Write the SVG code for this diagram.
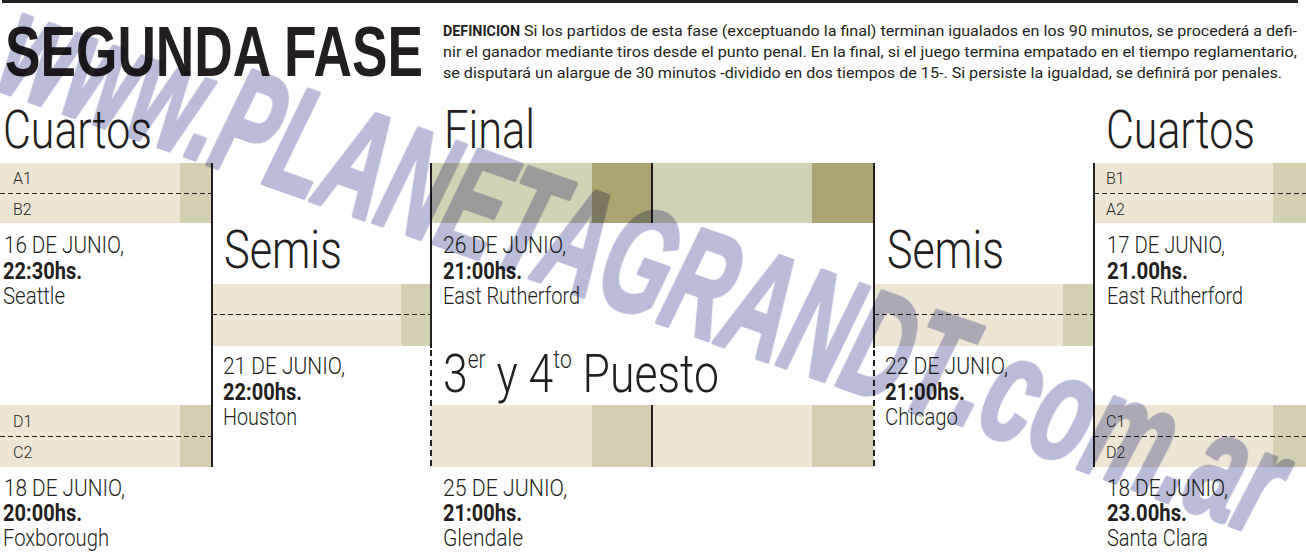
<svg xmlns="http://www.w3.org/2000/svg" width="1306" height="553" viewBox="0 0 1306 553">
<style>
.lt{fill:#ede6d5}
.md{fill:#d4d1b3}
.dk{fill:#aba370}
.fm{fill:#d4d2b4}
text{fill:#231f20;font-family:Roboto,"Liberation Sans",sans-serif}
.h{font-size:53px;font-weight:300}
.sup{font-size:25px}
.d{font-size:24px;font-weight:300}
.b{font-size:24px;font-weight:700}
.l{font-size:16px;font-weight:300}
.df{font-size:14.5px;font-weight:400}
.dfb{font-size:14.5px;font-weight:700}
.ttl{font-family:"Liberation Sans",Arial,sans-serif;font-weight:700;font-size:71px}
.ln{stroke:#231f20;stroke-width:2;fill:none}
.dl{stroke:#231f20;stroke-width:2;stroke-dasharray:6 4;fill:none}
.hd{stroke:#231f20;stroke-width:1;stroke-dasharray:5 3;fill:none}
#watermark{mix-blend-mode:multiply}
.wm{font-family:"Liberation Sans",Arial,sans-serif;font-weight:700;font-style:italic;font-size:150px;fill:#b9bbd9;stroke:#b9bbd9;stroke-width:4;stroke-linejoin:round}
</style>
<rect width="1306" height="553" fill="#ffffff"/>

<g id="header">
<rect x="2" y="0" width="1296" height="3" fill="#231f20"/>
<text class="ttl" x="5" y="76" textLength="418" lengthAdjust="spacingAndGlyphs">SEGUNDA FASE</text>
<text class="dfb" x="443" y="36" textLength="77" lengthAdjust="spacingAndGlyphs">DEFINICION</text>
<text class="df" x="524" y="36" textLength="773" lengthAdjust="spacingAndGlyphs">Si los partidos de esta fase (exceptuando la final) terminan igualados en los 90 minutos, se procederá a defi-</text>
<text class="df" x="443" y="57" textLength="854" lengthAdjust="spacingAndGlyphs">nir el ganador mediante tiros desde el punto penal. En la final, si el juego termina empatado en el tiempo reglamentario,</text>
<text class="df" x="443" y="78" textLength="839" lengthAdjust="spacingAndGlyphs">se disputará un alargue de 30 minutos -dividido en dos tiempos de 15-. Si persiste la igualdad, se definirá por penales.</text>
</g>

<g id="section-titles">
<text class="h" x="3" y="148" textLength="149" lengthAdjust="spacingAndGlyphs">Cuartos</text>
<text class="h" x="444" y="148" textLength="91" lengthAdjust="spacingAndGlyphs">Final</text>
<text class="h" x="1106" y="148" textLength="149" lengthAdjust="spacingAndGlyphs">Cuartos</text>
<text class="h" x="224" y="268" textLength="118" lengthAdjust="spacingAndGlyphs">Semis</text>
<text class="h" x="887" y="268" textLength="117" lengthAdjust="spacingAndGlyphs">Semis</text>
</g>

<g id="cuartos-a1-b2">
<rect class="lt" x="0" y="163" width="180" height="60"/>
<rect class="md" x="180" y="163" width="32" height="60"/>
<text class="l" x="13" y="184">A1</text>
<text class="l" x="13" y="215">B2</text>
<text class="d" x="4" y="253" textLength="120" lengthAdjust="spacingAndGlyphs">16 DE JUNIO,</text>
<text class="b" x="3" y="279" textLength="79" lengthAdjust="spacingAndGlyphs">22:30hs.</text>
<text class="d" x="3" y="304" textLength="62" lengthAdjust="spacingAndGlyphs">Seattle</text>
</g>

<g id="cuartos-d1-c2">
<rect class="lt" x="0" y="405" width="180" height="62"/>
<rect class="md" x="180" y="405" width="32" height="62"/>
<text class="l" x="13" y="427">D1</text>
<text class="l" x="13" y="458">C2</text>
<text class="d" x="4" y="496" textLength="121" lengthAdjust="spacingAndGlyphs">18 DE JUNIO,</text>
<text class="b" x="3" y="521" textLength="79" lengthAdjust="spacingAndGlyphs">20:00hs.</text>
<text class="d" x="3" y="546" textLength="106" lengthAdjust="spacingAndGlyphs">Foxborough</text>
</g>

<g id="semis-1">
<rect class="lt" x="212" y="284" width="189" height="62"/>
<rect class="md" x="401" y="284" width="30" height="62"/>
<text class="d" x="223" y="374" textLength="122" lengthAdjust="spacingAndGlyphs">21 DE JUNIO,</text>
<text class="b" x="223" y="400" textLength="79" lengthAdjust="spacingAndGlyphs">22:00hs.</text>
<text class="d" x="223" y="425" textLength="74" lengthAdjust="spacingAndGlyphs">Houston</text>
</g>

<g id="final">
<rect class="fm" x="431" y="163" width="161" height="60"/>
<rect class="dk" x="592" y="163" width="60" height="60"/>
<rect class="fm" x="652" y="163" width="160" height="60"/>
<rect class="dk" x="812" y="163" width="62" height="60"/>
<text class="d" x="443" y="253" textLength="123" lengthAdjust="spacingAndGlyphs">26 DE JUNIO,</text>
<text class="b" x="443" y="279" textLength="79" lengthAdjust="spacingAndGlyphs">21:00hs.</text>
<text class="d" x="443" y="304" textLength="137" lengthAdjust="spacingAndGlyphs">East Rutherford</text>
</g>

<g id="tercer-y-cuarto-puesto">
<text class="h" x="443" y="392" textLength="276" lengthAdjust="spacingAndGlyphs">3<tspan class="sup" dy="-24">er</tspan><tspan dy="24"> y 4</tspan><tspan class="sup" dy="-24">to</tspan><tspan dy="24"> Puesto</tspan></text>
<rect class="lt" x="431" y="405" width="161" height="62"/>
<rect class="md" x="592" y="405" width="60" height="62"/>
<rect class="lt" x="652" y="405" width="160" height="62"/>
<rect class="md" x="812" y="405" width="62" height="62"/>
<text class="d" x="443" y="496" textLength="124" lengthAdjust="spacingAndGlyphs">25 DE JUNIO,</text>
<text class="b" x="443" y="521" textLength="79" lengthAdjust="spacingAndGlyphs">21:00hs.</text>
<text class="d" x="443" y="546" textLength="80" lengthAdjust="spacingAndGlyphs">Glendale</text>
</g>

<g id="semis-2">
<rect class="lt" x="874" y="284" width="189" height="62"/>
<rect class="md" x="1063" y="284" width="31" height="62"/>
<text class="d" x="885" y="374" textLength="123" lengthAdjust="spacingAndGlyphs">22 DE JUNIO,</text>
<text class="b" x="885" y="400" textLength="80" lengthAdjust="spacingAndGlyphs">21:00hs.</text>
<text class="d" x="885" y="425" textLength="73" lengthAdjust="spacingAndGlyphs">Chicago</text>
</g>

<g id="cuartos-b1-a2">
<rect class="lt" x="1094" y="163" width="179" height="60"/>
<rect class="md" x="1273" y="163" width="33" height="60"/>
<text class="l" x="1106" y="184">B1</text>
<text class="l" x="1106" y="215">A2</text>
<text class="d" x="1107" y="253" textLength="118" lengthAdjust="spacingAndGlyphs">17 DE JUNIO,</text>
<text class="b" x="1107" y="279" textLength="81" lengthAdjust="spacingAndGlyphs">21.00hs.</text>
<text class="d" x="1107" y="304" textLength="136" lengthAdjust="spacingAndGlyphs">East Rutherford</text>
</g>

<g id="cuartos-c1-d2">
<rect class="lt" x="1094" y="405" width="179" height="62"/>
<rect class="md" x="1273" y="405" width="33" height="62"/>
<text class="l" x="1106" y="427">C1</text>
<text class="l" x="1106" y="458">D2</text>
<text class="d" x="1107" y="496" textLength="121" lengthAdjust="spacingAndGlyphs">18 DE JUNIO,</text>
<text class="b" x="1107" y="521" textLength="80" lengthAdjust="spacingAndGlyphs">23.00hs.</text>
<text class="d" x="1107" y="546" textLength="101" lengthAdjust="spacingAndGlyphs">Santa Clara</text>
</g>

<g id="connectors">
<path class="hd" d="M0 193.5H212M0 436.5H212M212 314.5H431M874 314.5H1094M1094 193.5H1306M1094 436.5H1306"/>
<path class="ln" d="M212 163V467M431 163V348M874 163V348M1094 163V467M652 163V223M652 405V467"/>
<path class="dl" d="M431 350V467M874 350V467"/>
</g>

<g id="watermark">
<text class="wm" transform="translate(-8,88) rotate(19.4)" textLength="1010" lengthAdjust="spacingAndGlyphs">www.PLANETAGRANDT</text>
<text class="wm" transform="translate(948,420) rotate(20.5)" textLength="335" lengthAdjust="spacingAndGlyphs">.com.ar</text>
</g>
</svg>
